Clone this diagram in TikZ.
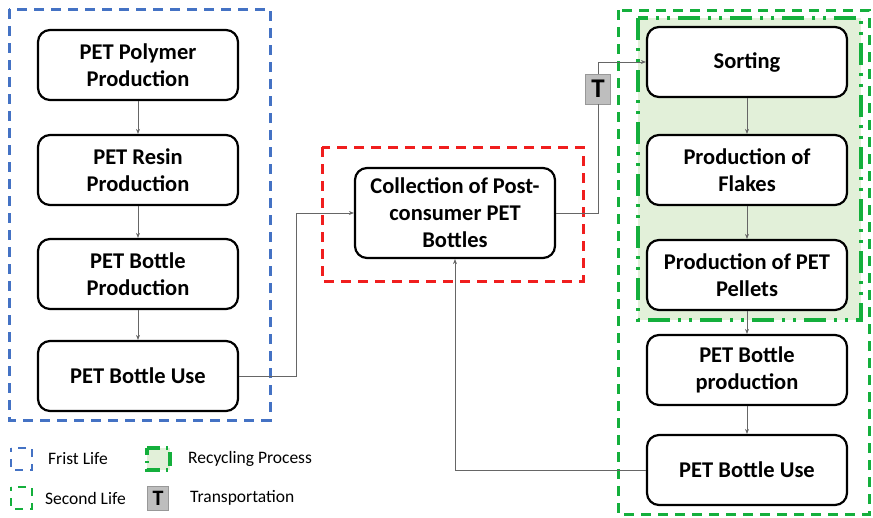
\documentclass[tikz,border=0pt]{standalone}
\usepackage{fontspec}
\setmainfont{Carlito}
\usetikzlibrary{arrows.meta}
\definecolor{bluedash}{RGB}{68,114,196}
\definecolor{reddash}{RGB}{240,30,30}
\definecolor{greendash}{RGB}{20,175,60}
\definecolor{recfill}{RGB}{226,240,217}
\definecolor{tgray}{RGB}{190,190,190}
\tikzset{
  procbox/.style={draw=black, line width=2.2pt, rounded corners=12pt, fill=white,
    minimum width=200pt, minimum height=70pt, align=center, inner sep=2pt,
    font=\fontsize{22.5}{27}\selectfont\bfseries},
  conn/.style={draw=gray!80!black, line width=0.8pt, -{Stealth[length=5pt,width=4pt]}},
  connplain/.style={draw=gray!80!black, line width=0.8pt},
  bluebox/.style={draw=bluedash, line width=3pt, dash pattern=on 10pt off 7pt},
  redbox/.style={draw=reddash, line width=3pt, dash pattern=on 10pt off 7pt},
  greenbox/.style={draw=greendash, line width=3pt, dash pattern=on 10pt off 7pt},
  recbox/.style={draw=greendash, fill=recfill, line width=4.5pt, dash pattern=on 22pt off 8pt on 3pt off 8pt on 3pt off 8pt},
  tbox/.style={fill=tgray, draw=tgray!80!black, line width=0.3pt, minimum width=25pt, minimum height=30pt, inner sep=0pt, font=\fontsize{27}{27}\selectfont\bfseries},
  legtext/.style={anchor=west, font=\fontsize{17.5}{20}\selectfont, inner sep=0pt},
}
\begin{document}
\begin{tikzpicture}[x=1pt,y=-1pt]
\useasboundingbox (0,0) rectangle (873,517);
% group frames
\draw[bluebox] (9,9) rectangle (270,420);
\draw[redbox] (322,147) rectangle (583,281);
\draw[greenbox] (618,10) rectangle (869,514);
\draw[recbox] (638,18) rectangle (861,320);
% first life nodes
\node[procbox] (poly) at (138,65) {PET Polymer\\Production};
\node[procbox] (resin) at (138,170) {PET Resin\\Production};
\node[procbox] (bprod) at (138,274) {PET Bottle\\Production};
\node[procbox] (use1) at (138,376) {PET Bottle Use};
% collection
\node[procbox, minimum height=90pt] (coll) at (455,213) {Collection of Post-\\consumer PET\\Bottles};
% second life nodes
\node[procbox] (sort) at (747,62) {Sorting};
\node[procbox] (flakes) at (747,170) {Production of\\Flakes};
\node[procbox] (pellets) at (747,275) {Production of PET\\Pellets};
\node[procbox] (bprod2) at (747,370) {PET Bottle\\production};
\node[procbox] (use2) at (747,470) {PET Bottle Use};
% transport
\node[tbox] (T) at (598,89) {T};
% connectors
\draw[conn] (poly) -- (resin);
\draw[conn] (resin) -- (bprod);
\draw[conn] (bprod) -- (use1);
\draw[conn] (use1.east) -- (296,376) -- (296,213) -- (coll.west);
\draw[connplain] (coll.east) -- (598,213) -- (T.south);
\draw[conn] (T.north) -- (598,62) -- (sort.west);
\draw[conn] (sort) -- (flakes);
\draw[conn] (flakes) -- (pellets);
\draw[conn] (pellets) -- (bprod2);
\draw[conn] (bprod2) -- (use2);
\draw[conn] (use2.west) -- (455,470) -- (coll.south);
% legend
\draw[draw=bluedash, line width=2.5pt, dash pattern=on 8pt off 7pt, dash phase=4pt] (11,448) rectangle (32,470);
\node[legtext] (l1) at (48,459) {Frist Life};
\draw[draw=greendash, line width=2.5pt, dash pattern=on 8pt off 7pt, dash phase=4pt] (11,487) rectangle (32,509);
\node[legtext] (l2) at (45,498) {Second Life};
\draw[draw=greendash, fill=recfill, line width=3.5pt, dash pattern=on 14pt off 6pt on 2pt off 6pt, dash phase=7pt] (147,448) rectangle (170,470);
\node[legtext] (l3) at (188,459) {Recycling Process};
\node[tbox, minimum width=21pt, minimum height=24pt, font=\fontsize{22}{22}\selectfont\bfseries] (tleg) at (158,498) {T};
\node[legtext] (l4) at (190,498) {Transportation};
\end{tikzpicture}
\end{document}
